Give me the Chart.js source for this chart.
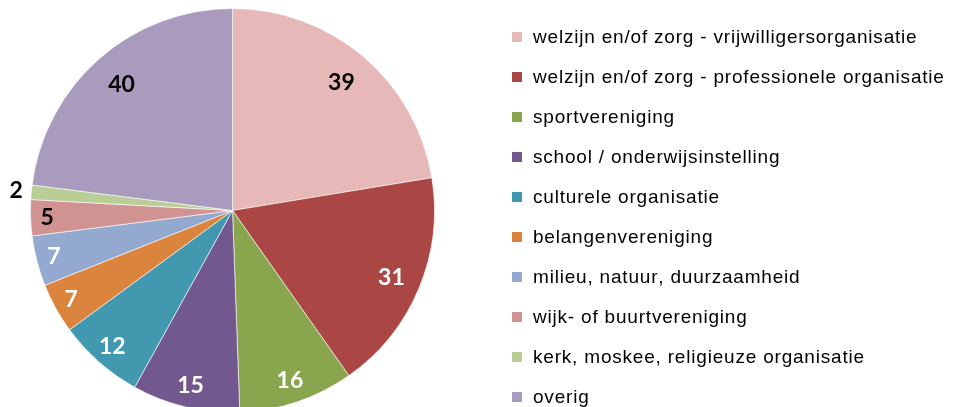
<!DOCTYPE html>
<html>
<head>
<meta charset="utf-8">
<script src="https://cdn.jsdelivr.net/npm/chart.js@4"></script>
<style>
  html, body { margin: 0; padding: 0; background: #fff; }
  #wrap { width: 953px; height: 407px; overflow: hidden; }
</style>
</head>
<body>
<div id="wrap"><canvas id="pie-chart" width="953" height="420"></canvas></div>
<script>
// categorieën en aantallen
const categories = [
    "welzijn en/of zorg - vrijwilligersorganisatie",
    "welzijn en/of zorg - professionele organisatie",
    "sportvereniging",
    "school / onderwijsinstelling",
    "culturele organisatie",
    "belangenvereniging",
    "milieu, natuur, duurzaamheid",
    "wijk- of buurtvereniging",
    "kerk, moskee, religieuze organisatie",
    "overig"
];
const counts = [39, 31, 16, 15, 12, 7, 7, 5, 2, 40];
const colors = ["#E6B9B8", "#AA4643", "#89A54E", "#71588F", "#4198AF", "#DB843D", "#93A9CF", "#D19392", "#B9CD96", "#A99BBD"];
const labelColors = ["#000", "#fff", "#fff", "#fff", "#fff", "#fff", "#fff", "#000", "#000", "#000"];

// labels in de taartpunten (kleinere punten iets verder naar buiten)
const sliceLabels = {
    id: 'sliceLabels',
    afterDatasetsDraw(chart) {
        const ctx = chart.ctx;
        const arcs = chart.getDatasetMeta(0).data;
        ctx.save();
        ctx.font = "bold 23px Lato";
        ctx.textAlign = "center";
        ctx.textBaseline = "middle";
        arcs.forEach(function (arc, i) {
            const mid = (arc.startAngle + arc.endAngle) / 2;
            const span = (arc.endAngle - arc.startAngle) * 180 / Math.PI;
            const f = span < 6 ? 1.075 : 0.93 - 0.0012 * span;
            const r = arc.outerRadius * f;
            ctx.fillStyle = labelColors[i];
            ctx.fillText(String(counts[i]), arc.x + Math.cos(mid) * r, arc.y + Math.sin(mid) * r);
        });
        ctx.restore();
    }
};

// tekst met wat extra letterafstand, teken voor teken
function spacedText(ctx, text, x, y, gap) {
    for (const ch of text) {
        ctx.fillText(ch, x, y);
        x += ctx.measureText(ch).width + gap;
    }
}

// legenda rechts
const sideLegend = {
    id: 'sideLegend',
    afterDraw(chart) {
        const ctx = chart.ctx;
        ctx.save();
        ctx.font = "19px 'Liberation Sans', Arial, sans-serif";
        ctx.textAlign = "left";
        ctx.textBaseline = "alphabetic";
        categories.forEach(function (name, i) {
            const y = 37 + i * 40;
            ctx.fillStyle = colors[i];
            ctx.fillRect(512, y - 5, 10, 10);
            ctx.fillStyle = "#000";
            spacedText(ctx, name, 533, y + 6, 0.8);
        });
        ctx.restore();
    }
};

var ctx = document.getElementById("pie-chart").getContext("2d");
var myChart = new Chart(ctx, {
    type: "pie",
    data: {
        labels: categories,
        datasets: [{
            data: counts,
            backgroundColor: colors,
            borderColor: "rgba(255,255,255,0.6)",
            borderWidth: 1
        }]
    },
    options: {
        responsive: false,
        animation: false,
        layout: { padding: { left: 30, top: 8, right: 518, bottom: 7 } },
        plugins: {
            legend: { display: false },
            tooltip: { enabled: false }
        }
    },
    plugins: [sliceLabels, sideLegend]
});
</script>
</body>
</html>
